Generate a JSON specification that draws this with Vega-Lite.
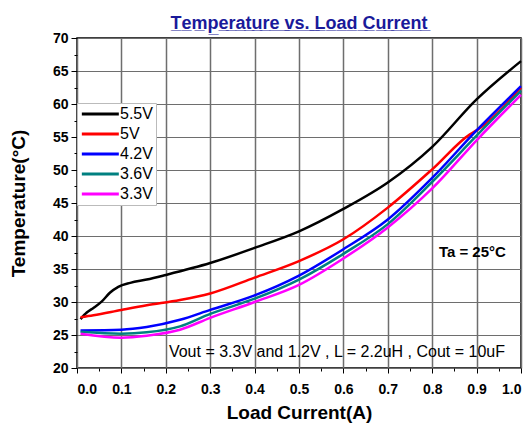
{
  "$schema": "https://vega.github.io/schema/vega-lite/v6.json",
  "width": 444,
  "height": 330,
  "autosize": {"type": "none"},
  "padding": {"left": 77, "top": 38, "right": 11, "bottom": 59},
  "background": "white",
  "config": {
    "font": "Liberation Sans",
    "view": {"stroke": "black", "strokeWidth": 1.5}
  },
  "title": {
    "text": "T̲e̲m̲p̲e̲r̲a̲t̲u̲r̲e̲ ̲v̲s̲.̲ ̲L̲o̲a̲d̲ ̲C̲u̲r̲r̲e̲n̲t̲",
    "fontSize": 18,
    "fontWeight": "bold",
    "color": "#1a1a9a",
    "anchor": "middle",
    "frame": "group",
    "offset": -2
  },
  "resolve": {"axis": {"x": "independent", "y": "independent"}},
  "layer": [
    {
      "data": {"values": [{"current": 0.05, "temp": 22.5}, {"current": 0.95, "temp": 67.5}]},
      "mark": {"type": "point", "opacity": 0},
      "encoding": {
        "x": {
          "field": "current",
          "type": "quantitative",
          "scale": {"domain": [0, 1], "nice": false, "zero": false},
          "axis": {
            "orient": "bottom",
            "title": null,
            "values": [0.05, 0.15, 0.25, 0.35, 0.45, 0.55, 0.65, 0.75, 0.85, 0.95],
            "labels": false,
            "grid": false,
            "domain": false,
            "tickColor": "black",
            "tickSize": 3
          }
        },
        "y": {
          "field": "temp",
          "type": "quantitative",
          "scale": {"domain": [20, 70], "nice": false, "zero": false},
          "axis": {
            "orient": "left",
            "title": null,
            "values": [22.5, 27.5, 32.5, 37.5, 42.5, 47.5, 52.5, 57.5, 62.5, 67.5],
            "labels": false,
            "grid": false,
            "domain": false,
            "tickColor": "black",
            "tickSize": 3
          }
        }
      }
    },
    {
      "data": {
        "values": [
          {"current": 0.008, "temp": 27.4, "series": "5.5V"},
          {"current": 0.022, "temp": 28.4, "series": "5.5V"},
          {"current": 0.037, "temp": 29.1, "series": "5.5V"},
          {"current": 0.056, "temp": 30.1, "series": "5.5V"},
          {"current": 0.074, "temp": 31.4, "series": "5.5V"},
          {"current": 0.093, "temp": 32.3, "series": "5.5V"},
          {"current": 0.12, "temp": 32.9, "series": "5.5V"},
          {"current": 0.157, "temp": 33.4, "series": "5.5V"},
          {"current": 0.2, "temp": 34.1, "series": "5.5V"},
          {"current": 0.3, "temp": 35.9, "series": "5.5V"},
          {"current": 0.4, "temp": 38.2, "series": "5.5V"},
          {"current": 0.5, "temp": 40.7, "series": "5.5V"},
          {"current": 0.6, "temp": 44.1, "series": "5.5V"},
          {"current": 0.7, "temp": 48.1, "series": "5.5V"},
          {"current": 0.8, "temp": 53.5, "series": "5.5V"},
          {"current": 0.9, "temp": 60.7, "series": "5.5V"},
          {"current": 1.0, "temp": 66.5, "series": "5.5V"},

          {"current": 0.008, "temp": 27.7, "series": "5V"},
          {"current": 0.037, "temp": 28.0, "series": "5V"},
          {"current": 0.1, "temp": 28.8, "series": "5V"},
          {"current": 0.157, "temp": 29.5, "series": "5V"},
          {"current": 0.232, "temp": 30.3, "series": "5V"},
          {"current": 0.3, "temp": 31.3, "series": "5V"},
          {"current": 0.4, "temp": 33.7, "series": "5V"},
          {"current": 0.5, "temp": 36.2, "series": "5V"},
          {"current": 0.6, "temp": 39.5, "series": "5V"},
          {"current": 0.7, "temp": 44.3, "series": "5V"},
          {"current": 0.8, "temp": 50.1, "series": "5V"},
          {"current": 0.885, "temp": 55.4, "series": "5V"},
          {"current": 0.9, "temp": 56.0, "series": "5V"},
          {"current": 1.0, "temp": 62.5, "series": "5V"},

          {"current": 0.008, "temp": 25.7, "series": "4.2V"},
          {"current": 0.1, "temp": 25.8, "series": "4.2V"},
          {"current": 0.157, "temp": 26.2, "series": "4.2V"},
          {"current": 0.232, "temp": 27.3, "series": "4.2V"},
          {"current": 0.3, "temp": 28.8, "series": "4.2V"},
          {"current": 0.4, "temp": 31.0, "series": "4.2V"},
          {"current": 0.5, "temp": 34.0, "series": "4.2V"},
          {"current": 0.6, "temp": 38.0, "series": "4.2V"},
          {"current": 0.7, "temp": 42.5, "series": "4.2V"},
          {"current": 0.8, "temp": 48.8, "series": "4.2V"},
          {"current": 0.9, "temp": 56.0, "series": "4.2V"},
          {"current": 1.0, "temp": 62.7, "series": "4.2V"},

          {"current": 0.008, "temp": 25.5, "series": "3.6V"},
          {"current": 0.1, "temp": 25.2, "series": "3.6V"},
          {"current": 0.157, "temp": 25.4, "series": "3.6V"},
          {"current": 0.232, "temp": 26.3, "series": "3.6V"},
          {"current": 0.3, "temp": 28.2, "series": "3.6V"},
          {"current": 0.4, "temp": 30.5, "series": "3.6V"},
          {"current": 0.5, "temp": 33.4, "series": "3.6V"},
          {"current": 0.6, "temp": 37.3, "series": "3.6V"},
          {"current": 0.7, "temp": 41.8, "series": "3.6V"},
          {"current": 0.8, "temp": 48.2, "series": "3.6V"},
          {"current": 0.9, "temp": 55.2, "series": "3.6V"},
          {"current": 1.0, "temp": 62.0, "series": "3.6V"},

          {"current": 0.008, "temp": 25.2, "series": "3.3V"},
          {"current": 0.1, "temp": 24.6, "series": "3.3V"},
          {"current": 0.157, "temp": 24.9, "series": "3.3V"},
          {"current": 0.232, "temp": 25.8, "series": "3.3V"},
          {"current": 0.3, "temp": 27.6, "series": "3.3V"},
          {"current": 0.4, "temp": 30.0, "series": "3.3V"},
          {"current": 0.5, "temp": 32.6, "series": "3.3V"},
          {"current": 0.6, "temp": 36.6, "series": "3.3V"},
          {"current": 0.7, "temp": 41.3, "series": "3.3V"},
          {"current": 0.8, "temp": 47.2, "series": "3.3V"},
          {"current": 0.9, "temp": 54.5, "series": "3.3V"},
          {"current": 1.0, "temp": 61.4, "series": "3.3V"}
        ]
      },
      "mark": {"type": "line", "interpolate": "monotone", "strokeWidth": 2.5},
      "encoding": {
        "x": {
          "field": "current",
          "type": "quantitative",
          "axis": {
            "orient": "bottom",
            "title": "Load Current(A)",
            "values": [0, 0.1, 0.2, 0.3, 0.4, 0.5, 0.6, 0.7, 0.8, 0.9, 1.0],
            "format": ".1f",
            "labelOverlap": false,
            "labelFontSize": 14,
            "labelFontWeight": "bold",
            "labelColor": "black",
            "titleFontSize": 19,
            "titleFontWeight": "bold",
            "titleColor": "black",
            "titlePadding": 7,
            "grid": true,
            "gridColor": "#6e6e6e",
            "gridWidth": 1.5,
            "gridOpacity": 1,
            "domain": false,
            "tickColor": "black",
            "tickSize": 5,
            "labelPadding": 9
          }
        },
        "y": {
          "field": "temp",
          "type": "quantitative",
          "axis": {
            "orient": "left",
            "title": "Temperature(°C)",
            "values": [20, 25, 30, 35, 40, 45, 50, 55, 60, 65, 70],
            "labelOverlap": false,
            "labelFontSize": 14,
            "labelFontWeight": "bold",
            "labelColor": "black",
            "titleFontSize": 19,
            "titleFontWeight": "bold",
            "titleColor": "black",
            "titlePadding": 24,
            "grid": true,
            "gridColor": "#6e6e6e",
            "gridWidth": 1.2,
            "gridOpacity": 1,
            "domain": false,
            "tickColor": "black",
            "tickSize": 6,
            "labelPadding": 3
          }
        },
        "color": {
          "field": "series",
          "type": "nominal",
          "sort": ["5.5V", "5V", "4.2V", "3.6V", "3.3V"],
          "scale": {
            "domain": ["5.5V", "5V", "4.2V", "3.6V", "3.3V"],
            "range": ["#000000", "#ff0000", "#0000ff", "#008080", "#ff00ff"]
          },
          "legend": {
            "title": null,
            "orient": "none",
            "legendX": 0,
            "legendY": 65,
            "fillColor": "white",
            "strokeColor": "#bbbbbb",
            "padding": 3,
            "symbolType": "M-1,0H5",
            "symbolSize": 152,
            "symbolStrokeWidth": 3,
            "labelFontSize": 16,
            "labelColor": "black",
            "labelOffset": 24,
            "rowPadding": 4
          }
        }
      }
    },
    {
      "data": {"values": [{"current": 0.966, "temp": 37.65, "label": "Ta = 25°C"}]},
      "mark": {"type": "text", "align": "right", "baseline": "middle", "fontSize": 15, "fontWeight": "bold", "color": "black"},
      "encoding": {
        "x": {"field": "current", "type": "quantitative", "axis": null},
        "y": {"field": "temp", "type": "quantitative", "axis": null},
        "text": {"field": "label"}
      }
    },
    {
      "data": {"values": [{"current": 0.964, "temp": 22.35, "label": "Vout = 3.3V and 1.2V , L = 2.2uH , Cout = 10uF"}]},
      "mark": {"type": "text", "align": "right", "baseline": "middle", "fontSize": 16, "color": "black"},
      "encoding": {
        "x": {"field": "current", "type": "quantitative", "axis": null},
        "y": {"field": "temp", "type": "quantitative", "axis": null},
        "text": {"field": "label"}
      }
    }
  ]
}
